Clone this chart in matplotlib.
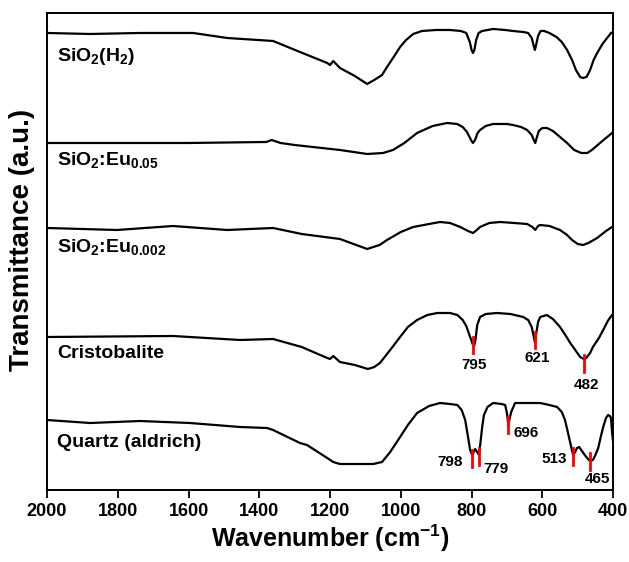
import matplotlib
matplotlib.use("Agg")
import matplotlib.pyplot as plt

plt.rcParams["font.family"] = "Liberation Sans"
plt.rcParams["font.weight"] = "bold"
plt.rcParams["mathtext.fontset"] = "custom"
plt.rcParams["mathtext.rm"] = "Liberation Sans:bold"
plt.rcParams["mathtext.it"] = "Liberation Sans:bold"
plt.rcParams["mathtext.bf"] = "Liberation Sans:bold"

# spectra, stacked (transmittance, arbitrary units incl. offset)
wn_h2 = [2000, 1878, 1737, 1587, 1491, 1361, 1285, 1208, 1200, 1191, 1172, 1130, 1095, 1075,
         1053, 1039, 1022, 1002, 985, 965, 940, 900, 861, 830, 815, 805, 800, 796, 792, 787,
         780, 770, 739, 705, 683, 654, 640, 630, 625, 621, 617, 612, 605, 595, 580, 560,
         545, 530, 516, 505, 493, 485, 475, 465, 455, 445, 430, 417, 410, 406, 400]
t_h2 = [457, 456, 457, 457, 452, 449, 438, 427, 425, 429, 422, 414, 406, 410,
        415, 423, 432, 443, 450, 456, 459, 460, 460, 459, 457, 448, 440, 437, 440, 450,
        457, 459, 461, 460, 459, 458, 457, 452, 445, 440, 446, 454, 459, 459, 457, 453,
        448, 440, 430, 420, 413, 412, 413, 420, 430, 437, 446, 452, 455, 457, 458]

wn_eu05 = [2000, 1800, 1600, 1380, 1365, 1340, 1300, 1172, 1095, 1050, 1022, 990, 954, 910,
           869, 841, 825, 813, 800, 796, 790, 783, 776, 760, 739, 700, 683, 660, 643, 630,
           623, 620, 616, 610, 600, 587, 570, 550, 530, 510, 490, 473, 460, 437, 420, 403,
           400]
t_eu05 = [347, 347, 347, 348, 350, 347, 345, 340, 336, 337, 340, 347, 357, 364,
          367, 366, 363, 358, 349, 347, 350, 357, 360, 364, 366, 366, 365, 363, 360, 355,
          349, 347, 352, 359, 362, 362, 359, 353, 347, 340, 337, 337, 340, 347, 352, 357,
          358]

wn_eu002 = [2000, 1802, 1644, 1491, 1361, 1280, 1172, 1095, 1060, 1039, 1000, 965, 920, 889,
            861, 832, 810, 796, 785, 776, 750, 719, 680, 643, 628, 620, 612, 606, 580, 550,
            530, 516, 500, 485, 470, 445, 420, 403, 400]
t_eu002 = [262, 260, 264, 260, 262, 256, 251, 241, 245, 250, 258, 263, 266, 268,
           267, 263, 259, 257, 260, 263, 267, 268, 267, 266, 263, 260, 264, 265, 264, 260,
           255, 250, 246, 245, 247, 252, 259, 263, 263]

wn_cris = [2000, 1644, 1454, 1361, 1280, 1208, 1200, 1191, 1172, 1130, 1093, 1075, 1059, 1030,
           1002, 980, 954, 925, 897, 861, 840, 825, 815, 805, 797, 793, 789, 784, 776, 760,
           728, 690, 654, 640, 630, 624, 621, 617, 612, 606, 587, 570, 550, 535, 521, 505,
           493, 483, 476, 465, 457, 440, 428, 415, 403, 400]
t_cris = [153, 154, 150, 151, 143, 132, 131, 134, 128, 125, 121, 123, 127, 140,
          153, 163, 170, 175, 177, 177, 175, 170, 164, 154, 146, 144, 150, 165, 173, 176,
          177, 176, 173, 170, 163, 153, 148, 157, 168, 173, 175, 171, 163, 155, 147, 139,
          133, 131, 132, 137, 143, 152, 160, 169, 175, 176]

wn_qtz = [2000, 1878, 1737, 1596, 1454, 1378, 1361, 1285, 1265, 1208, 1191, 1172, 1078, 1053,
          1030, 1002, 980, 954, 920, 889, 861, 840, 828, 818, 810, 804, 798, 790, 784, 779,
          774, 770, 765, 755, 739, 715, 705, 700, 696, 692, 688, 677, 640, 606, 580, 558,
          545, 536, 528, 521, 513, 507, 502, 496, 490, 480, 471, 465, 457, 450, 442, 435,
          428, 420, 414, 409, 406, 403, 400]
t_qtz = [70, 67, 69, 67, 63, 62, 60, 47, 45, 32, 28, 26, 26, 28,
         38, 53, 65, 77, 84, 87, 86, 85, 80, 70, 53, 40, 35, 41, 38, 35,
         50, 63, 75, 83, 87, 86, 85, 77, 65, 72, 78, 87, 87, 87, 85, 83,
         78, 70, 58, 47, 35, 38, 42, 43, 40, 35, 31, 29, 30, 35, 42, 53,
         63, 72, 75, 74, 72, 58, 48]

names = [r"SiO$_{\mathrm{2}}$(H$_{\mathrm{2}}$)",
         r"SiO$_{\mathrm{2}}$:Eu$_{\mathrm{0.05}}$",
         r"SiO$_{\mathrm{2}}$:Eu$_{\mathrm{0.002}}$",
         "Cristobalite",
         "Quartz (aldrich)"]
name_y = [433, 330, 243, 137, 48]

# marked bands: position, marker bottom/top, label x, label y, alignment
peaks = [795, 621, 482, 798, 779, 696, 513, 465]
mark_lo = [137, 142, 118, 23, 25, 57, 25, 20]
mark_hi = [153, 158, 135, 40, 42, 73, 42, 37]
lab_x = [793, 615, 476, 824, 731, 646, 530, 444]
lab_y = [125, 132, 105, 28, 21, 57, 31, 11]
lab_ha = ["center", "center", "center", "right", "center", "center", "right", "center"]

fig = plt.figure(figsize=(6.29, 5.62), dpi=100)
ax = fig.add_axes([0.0747, 0.1281, 0.9000, 0.8488])

for wn, t in [(wn_h2, t_h2), (wn_eu05, t_eu05), (wn_eu002, t_eu002),
              (wn_cris, t_cris), (wn_qtz, t_qtz)]:
    ax.plot(wn, t, color="black", lw=1.6)

for name, y in zip(names, name_y):
    ax.text(1972, y, name, fontsize=14, fontweight="bold", va="center", ha="left")

for p, lo, hi, lx, ly, ha in zip(peaks, mark_lo, mark_hi, lab_x, lab_y, lab_ha):
    ax.plot([p, p], [lo, hi], color="red", lw=2)
    ax.text(lx, ly, str(p), fontsize=11, fontweight="bold", ha=ha, va="center")

ax.set_xlim(2000, 400)
ax.set_ylim(0, 477)
ax.set_xticks(range(2000, 399, -200))
ax.set_yticks([])
ax.tick_params(axis="x", direction="out", length=6, width=1.3, labelsize=13, pad=3)
for s in ax.spines.values():
    s.set_linewidth(1.4)

ax.set_xlabel(r"Wavenumber (cm$^{\mathrm{-1}}$)", fontsize=18, fontweight="bold", labelpad=2)
fig.text(0.035, 0.573, "Transmittance (a.u.)", rotation=90, fontsize=20,
         fontweight="bold", ha="center", va="center")

fig.savefig("out.png", dpi=100)
